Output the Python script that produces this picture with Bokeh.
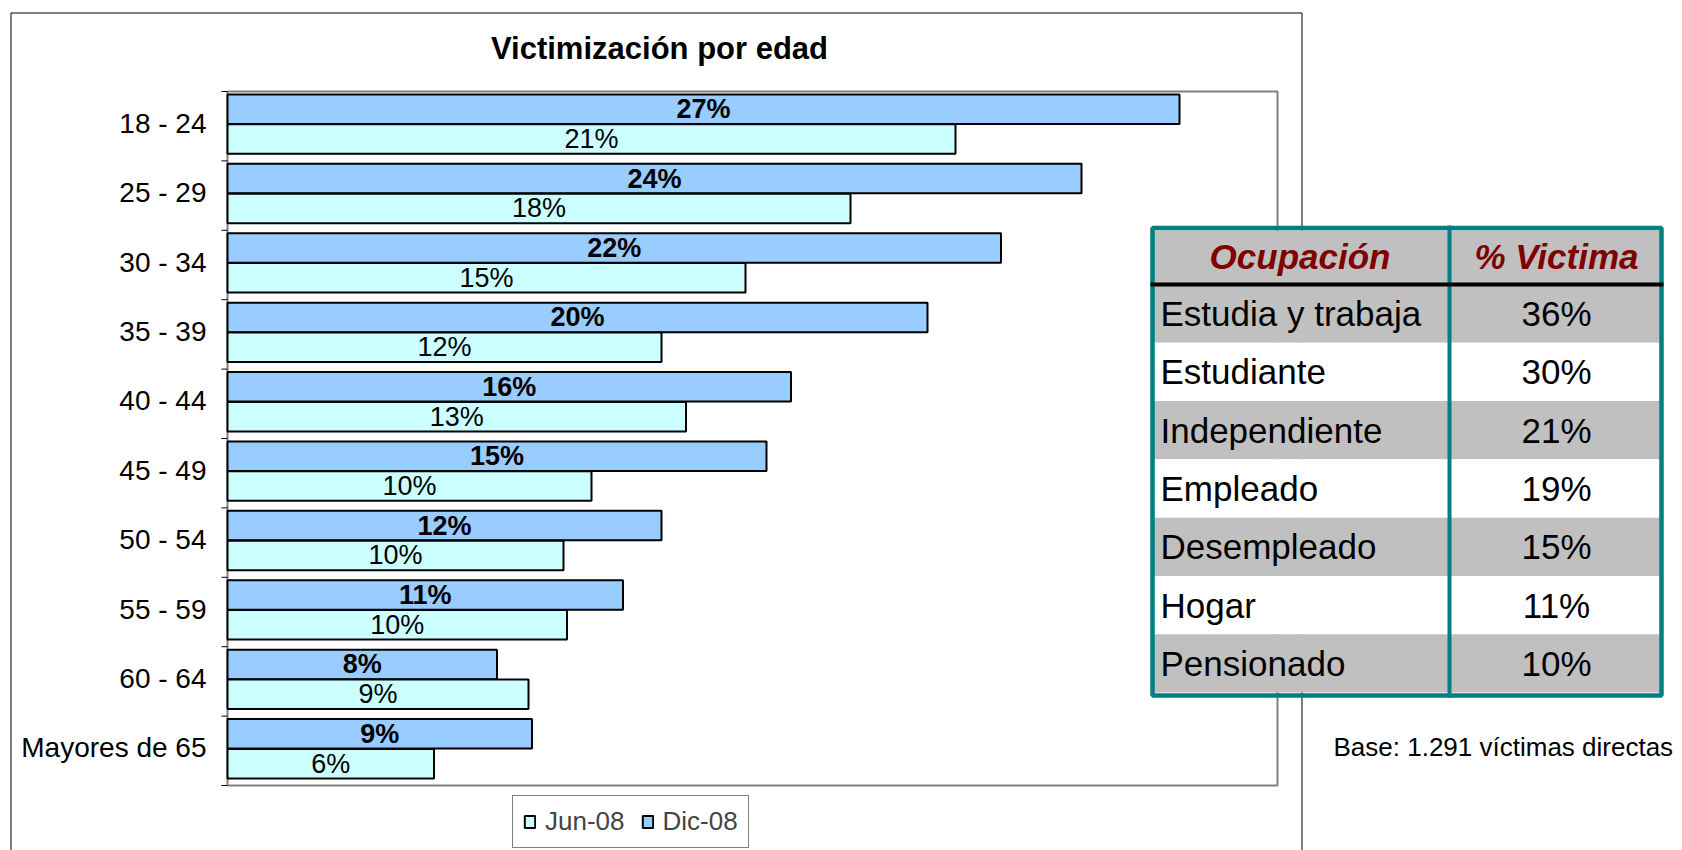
import math
from bokeh.plotting import figure
from bokeh.models import ColumnDataSource, Range1d, Legend, LegendItem
from bokeh.core.properties import value
from bokeh.embed import file_html
from bokeh.resources import INLINE

# ---------------- data ----------------
categories = ["18 - 24", "25 - 29", "30 - 34", "35 - 39", "40 - 44",
              "45 - 49", "50 - 54", "55 - 59", "60 - 64", "Mayores de 65"]
jun_08 = [20.8, 17.8, 14.8, 12.4, 13.1, 10.4, 9.6, 9.7, 8.6, 5.9]
dic_08 = [27.2, 24.4, 22.1, 20.0, 16.1, 15.4, 12.4, 11.3, 7.7, 8.7]
jun_labels = ["21%", "18%", "15%", "12%", "13%", "10%", "10%", "10%", "9%", "6%"]
dic_labels = ["27%", "24%", "22%", "20%", "16%", "15%", "12%", "11%", "8%", "9%"]
series_names = ["Jun-08", "Dic-08"]

table_header = ["Ocupación", "% Victima"]
ocupacion = ["Estudia y trabaja", "Estudiante", "Independiente", "Empleado",
             "Desempleado", "Hogar", "Pensionado"]
pct_victima = ["36%", "30%", "21%", "19%", "15%", "11%", "10%"]

title_text = "Victimización por edad"
base_text = "Base: 1.291 víctimas directas"

# ---------------- layout constants (page pixels) ----------------
W, H = 1682, 850
PL, PR, PT, PB = 227, 1277, 91, 785      # plot area
XMAX = 30.0
FONT = "Liberation Sans"
DIC_COLOR = "#99CCFF"
JUN_COLOR = "#CCFFFF"
TEAL = "#008080"
GRAY = "#C0C0C0"
DARKRED = "#800000"

n = len(categories)
ppx = (PR - PL) / XMAX
ppy = (PB - PT) / n

p = figure(width=W, height=H, x_range=Range1d(0, W), y_range=Range1d(H, 0),
           output_backend="svg", toolbar_location=None,
           x_axis_location=None, y_axis_location=None, min_border=0)
p.extra_x_ranges = {"pct": Range1d(-PL / ppx, XMAX + (W - PR) / ppx)}
p.extra_y_ranges = {"cat": Range1d(-(H - PB) / ppy, n + PT / ppy)}
p.xgrid.visible = False
p.ygrid.visible = False
p.outline_line_color = None
p.background_fill_color = "white"
p.border_fill_color = "white"
D = dict(x_range_name="pct", y_range_name="cat")

centers = [n - i - 0.5 for i in range(n)]
off = 0.215
shift = 0.03
bar_h = 0.425
src = ColumnDataSource(dict(
    cat=categories, cy=centers,
    jun=jun_08, dic=dic_08,
    jun_y=[c - off + shift for c in centers], dic_y=[c + off + shift for c in centers],
    jun_mid=[v / 2 for v in jun_08], dic_mid=[v / 2 for v in dic_08],
    jun_lab=jun_labels, dic_lab=dic_labels,
))

# outer chart frame
p.quad(left=10.5, right=1301.5, top=12.5, bottom=H + 20, fill_alpha=0,
       line_color="black", line_width=1)

# plot area border (gray) + axis ticks + category labels
p.quad(left=0, right=XMAX, bottom=0, top=n, fill_color="white",
       line_color="#808080", line_width=2, **D)
p.ray(x=0, y=list(range(0, n + 1)), length=6, length_units="screen", angle=math.pi,
      line_color="black", line_width=1, **D)
p.text(x=0, y="cy", text="cat", source=src, x_offset=-21, y_offset=-3,
       text_font=value(FONT), text_font_size="28px", text_align="right",
       text_baseline="middle", text_color="black", **D)

# bars
rd = p.hbar(y="dic_y", left=0, right="dic", height=bar_h, source=src,
            fill_color=DIC_COLOR, line_color="black", line_width=2, **D)
rj = p.hbar(y="jun_y", left=0, right="jun", height=bar_h, source=src,
            fill_color=JUN_COLOR, line_color="black", line_width=2, **D)

p.text(x="dic_mid", y="dic_y", text="dic_lab", source=src,
       text_font=value(FONT), text_font_style="bold", text_font_size="27px",
       text_align="center", text_baseline="middle", text_color="black", **D)
p.text(x="jun_mid", y="jun_y", text="jun_lab", source=src,
       text_font=value(FONT), text_font_size="27px",
       text_align="center", text_baseline="middle", text_color="black", **D)

# title
p.text(x=[659], y=[48], text=[title_text], text_font=value(FONT), text_font_style="bold",
       text_font_size="31px", text_align="center", text_baseline="alphabetic",
       text_color="black")

# ---------------- table ----------------
TL, TR, TT, TB = 1150, 1663, 225, 697
IL, IR, IT, IB = 1153, 1660, 230, 692
HEAD_B = 284
COLX = 1449
nrow = len(ocupacion)
rh = (IB - HEAD_B) / nrow

p.quad(left=[IL], right=[IR], top=[IT], bottom=[HEAD_B], fill_color=GRAY, line_alpha=0)
row_top = [HEAD_B + i * rh for i in range(nrow)]
row_fill = [GRAY if i % 2 == 0 else "white" for i in range(nrow)]
p.quad(left=IL, right=IR, top=row_top, bottom=[t + rh for t in row_top],
       fill_color=row_fill, line_alpha=0)
p.quad(left=[TL + 2], right=[TR - 2], top=[TT + 2.5], bottom=[TB - 2],
       fill_alpha=0, line_color=TEAL, line_width=4.5)
p.quad(left=[COLX - 2], right=[COLX + 2], top=[TT], bottom=[TB], fill_color=TEAL, line_alpha=0)
p.quad(left=[TL], right=[TR], top=[HEAD_B - 2], bottom=[HEAD_B + 2], fill_color="black", line_alpha=0)

hy = (IT + HEAD_B - 2) / 2
p.text(x=[(TL + COLX) / 2, (COLX + TR) / 2], y=[hy, hy], text=table_header,
       text_font=value(FONT), text_font_style="bold italic", text_font_size="35px",
       text_align="center", text_baseline="middle", text_color=DARKRED)
row_cy = [HEAD_B + (i + 0.5) * rh for i in range(nrow)]
p.text(x=1160, y=row_cy, text=ocupacion, text_font=value(FONT), text_font_size="35px",
       text_align="left", text_baseline="middle", text_color="black")
p.text(x=(COLX + TR) / 2, y=row_cy, text=pct_victima, text_font=value(FONT),
       text_font_size="35px", text_align="center", text_baseline="middle", text_color="black")

# base note
p.text(x=[1333], y=[746], text=[base_text], text_font=value(FONT), text_font_size="26px",
       text_align="left", text_baseline="middle", text_color="black")

# legend
legend = Legend(items=[LegendItem(label=series_names[0], renderers=[rj]),
                       LegendItem(label=series_names[1], renderers=[rd])],
                orientation="horizontal", location=(512, 2),
                label_text_font=FONT, label_text_font_size="26px", label_height=30,
                glyph_width=13, glyph_height=15, label_standoff=9, spacing=16,
                padding=10, margin=0, border_line_color="black", border_line_width=1,
                background_fill_color="white", background_fill_alpha=1)
p.add_layout(legend)

open("out.html", "w").write(file_html(p, INLINE))
